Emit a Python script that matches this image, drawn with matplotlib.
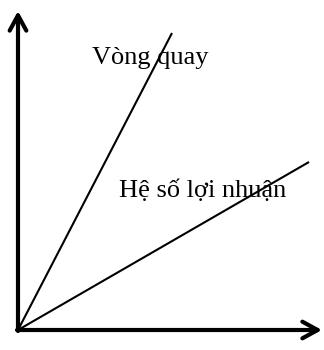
import matplotlib
matplotlib.use('Agg')
import matplotlib.pyplot as plt

# Hai đường xuất phát từ gốc toạ độ (đơn vị: điểm ảnh so với gốc)
ten_duong = ['Vòng quay', 'Hệ số lợi nhuận']
x_cuoi = [154, 291]
y_cuoi = [297, 168]

# Vị trí nhãn (tâm theo x, đường chân chữ theo y)
nhan_x = [132, 185]
nhan_y = [266, 133]

# Chiều dài các trục
truc_x = 304
truc_y = 319


def ve_bieu_do():
    fig = plt.figure(figsize=(3.24, 3.5), dpi=100)
    ax = fig.add_axes([0, 0, 1, 1])
    ax.set_xlim(-18, 306)
    ax.set_ylim(-20, 330)
    ax.axis('off')

    # Trục toạ độ có mũi tên
    muiten = dict(arrowstyle='->, head_length=1.1, head_width=0.6',
                  lw=3, color='black', shrinkA=0, shrinkB=0)
    ax.annotate('', xy=(truc_x, 0), xytext=(-1, 0), arrowprops=muiten)
    ax.annotate('', xy=(0, truc_y), xytext=(0, -1), arrowprops=muiten)

    # Các đường thẳng
    for xe, ye in zip(x_cuoi, y_cuoi):
        ax.plot([0, xe], [0, ye], color='black', lw=1.5,
                solid_capstyle='butt')

    for ten, tx, ty in zip(ten_duong, nhan_x, nhan_y):
        ax.text(tx, ty, ten, fontsize=19, family='Liberation Serif',
                ha='center', va='baseline')

    fig.savefig('out.png', dpi=100)


if __name__ == '__main__':
    ve_bieu_do()
